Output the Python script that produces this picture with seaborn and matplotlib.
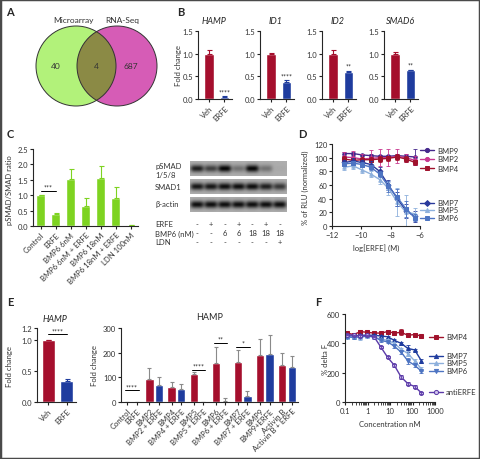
"""
Multi-panel figure: ERFE effects on BMP signalling (A-F)
"""
import numpy as np
import pandas as pd
import matplotlib
matplotlib.use("Agg")
import matplotlib.pyplot as plt
import seaborn as sns
from matplotlib.patches import Circle, Rectangle
from matplotlib.lines import Line2D

# ---------------- data ----------------
venn_sets = ["Microarray", "RNA-Seq"]
venn_counts = [40, 4, 687]

b_genes = ["HAMP", "ID1", "ID2", "SMAD6"]
b_groups = ["Veh", "ERFE"]
b_means = [[1.0, 0.05], [1.0, 0.38], [1.0, 0.60], [1.0, 0.63]]
b_errs = [[0.09, 0.01], [0.01, 0.03], [0.09, 0.02], [0.04, 0.02]]
b_stars = ["****", "****", "**", "**"]

c_labels = ["Control", "ERFE", "BMP6 6nM", "BMP6 6nM + ERFE",
            "BMP6 18nM", "BMP6 18nM + ERFE", "LDN 100nM"]
c_ratio = [1.0, 0.38, 1.52, 0.65, 1.56, 0.90, 0.02]
c_err = [0.0, 0.05, 0.32, 0.27, 0.38, 0.36, 0.01]

blot_rows = ["pSMAD\n1/5/8", "SMAD1", "β-actin"]
blot_psmad = [0.85, 0.65, 1.0, 0.35, 1.0, 0.35, 0.03]
blot_smad1 = [0.90, 0.90, 0.95, 0.95, 0.95, 0.85, 0.70]
blot_actin = [0.95, 0.95, 0.95, 0.95, 0.95, 0.95, 0.95]
blot_erfe = ["-", "+", "-", "+", "-", "+", "-"]
blot_bmp6 = ["-", "-", "6", "6", "18", "18", "18"]
blot_ldn = ["-", "-", "-", "-", "-", "-", "+"]

d_logconc = [-11.15, -10.55, -9.95, -9.35, -8.75, -8.15, -7.55, -6.95, -6.35]
d_bmp9 = [106, 106, 104, 103, 102, 102, 103, 102, 101]
d_bmp9_err = [3, 3, 2, 2, 2, 2, 2, 3, 12]
d_bmp2 = [101, 100, 98, 99, 100, 100, 102, 100, 96]
d_bmp2_err = [8, 10, 8, 12, 12, 12, 10, 6, 6]
d_bmp4 = [98, 96, 97, 97, 98, 99, 101, 98, 93]
d_bmp4_err = [4, 4, 4, 4, 4, 4, 4, 4, 4]
d_bmp7 = [93, 95, 93, 90, 80, 60, 40, 22, 14]
d_bmp7_err = [4, 4, 4, 5, 6, 8, 10, 10, 8]
d_bmp5 = [86, 88, 82, 76, 68, 55, 35, 20, 18]
d_bmp5_err = [4, 5, 4, 4, 6, 10, 20, 25, 8]
d_bmp6 = [91, 92, 90, 86, 76, 58, 42, 25, 12]
d_bmp6_err = [3, 3, 3, 4, 5, 8, 12, 12, 5]

e_groups = ["Veh", "ERFE"]
e_fold = [1.0, 0.34]
e_fold_err = [0.005, 0.04]

e2_labels = ["Control", "ERFE", "BMP2", "BMP2 + ERFE", "BMP4", "BMP4 + ERFE",
             "BMP5", "BMP5 + ERFE", "BMP6", "BMP6 + ERFE", "BMP7", "BMP7 + ERFE",
             "BMP9", "BMP9+ERFE", "Activin B", "Activin B + ERFE"]
e2_ligand = ["Control", "BMP2", "BMP4", "BMP5", "BMP6", "BMP7", "BMP9", "Activin B"]
e2_fold = [0, 0, 95, 70, 60, 53, 113, 1, 160, 5, 163, 25, 190, 195, 148, 143]
e2_err = [0, 0, 42, 30, 20, 18, 10, 1, 65, 10, 48, 18, 65, 75, 50, 45]

f_conc = [0.122, 0.244, 0.488, 0.977, 1.95, 3.9, 7.8, 15.6, 31.25, 62.5, 125, 250]
f_bmp4 = [470, 460, 480, 475, 470, 470, 480, 470, 475, 455, 460, 450]
f_bmp4_err = [8, 5, 8, 8, 5, 5, 8, 8, 20, 8, 5, 5]
f_bmp7 = [450, 450, 455, 455, 455, 450, 445, 420, 400, 365, 355, 280]
f_bmp7_err = [10, 8, 8, 8, 8, 8, 8, 8, 10, 25, 8, 15]
f_bmp5 = [440, 445, 440, 450, 440, 430, 420, 400, 360, 330, 280, 225]
f_bmp5_err = [10, 8, 15, 8, 8, 8, 8, 10, 10, 15, 10, 15]
f_bmp6 = [445, 440, 445, 450, 445, 420, 410, 380, 340, 280, 250, 210]
f_bmp6_err = [8, 8, 8, 8, 8, 8, 8, 10, 10, 20, 10, 10]
f_anti = [460, 455, 450, 455, 445, 375, 305, 250, 170, 125, 105, 62]
f_anti_err = [5, 5, 5, 5, 5, 5, 8, 8, 15, 8, 10, 5]

RED = "#a50f2d"
BLUE = "#1f3c9e"
GREEN = "#7ed321"

# ---------------- style ----------------
sns.set_style("ticks")
plt.rcParams["font.family"] = ["Lato", "DejaVu Sans"]
plt.rcParams["font.size"] = 5.5
plt.rcParams["axes.linewidth"] = 0.8
plt.rcParams["xtick.major.size"] = 2
plt.rcParams["ytick.major.size"] = 2
plt.rcParams["xtick.major.width"] = 0.8
plt.rcParams["ytick.major.width"] = 0.8
plt.rcParams["xtick.major.pad"] = 1.5
plt.rcParams["ytick.major.pad"] = 1.5
plt.rcParams["xtick.labelsize"] = 5.5
plt.rcParams["ytick.labelsize"] = 5.5

W, H = 480, 460
fig = plt.figure(figsize=(W / 100, H / 100), dpi=100)


def box(x0, y0, x1, y1):
    return fig.add_axes([x0 / W, 1 - y1 / H, (x1 - x0) / W, (y1 - y0) / H])


def ftxt(x, y, s, **kw):
    kw.setdefault("ha", "center")
    kw.setdefault("va", "center")
    fig.text(x / W, 1 - y / H, s, **kw)


def clean(ax):
    sns.despine(ax=ax)
    ax.tick_params(colors="#222222", labelcolor="#333333")


def bars(ax, labels, vals, errs, colors, width):
    df = pd.DataFrame({"lab": labels, "val": vals})
    sns.barplot(data=df, x="lab", y="val", hue="lab", palette=colors,
                width=width, errorbar=None, legend=False, ax=ax, saturation=1)
    xs = [p.get_x() + p.get_width() / 2 for p in ax.patches]
    for x, v, e, c in zip(xs, vals, errs, colors):
        ax.errorbar([x], [v], yerr=[[0], [e]], fmt="none", ecolor=c,
                    elinewidth=0.8, capsize=1.8, capthick=0.8)
    ax.set_xlabel("")
    ax.set_ylabel("")
    return xs


def rot_labels(ax, xs, labels):
    ax.set_xticks(xs)
    ax.set_xticklabels(labels, rotation=45, ha="right", rotation_mode="anchor")


def legend_entry(x, y, color, marker, label, mfc=None):
    fig.add_artist(Line2D([(x - 7) / W, x / W, (x + 7) / W], [1 - y / H] * 3,
                          color=color, lw=1, marker=marker, markersize=3,
                          markevery=[1], markerfacecolor=mfc or color,
                          markeredgecolor=color, markeredgewidth=0.7))
    ftxt(x + 10, y, label, ha="left", fontsize=5.5, color="#333333")


# ---------------- A: venn ----------------
axA = box(0, 0, 180, 130)
axA.set_xlim(0, 180)
axA.set_ylim(130, 0)
axA.axis("off")
left = Circle((76, 67), 40, fc="#b2f27a", ec="none")
right = Circle((117, 67), 40, fc="#d65cb6", ec="none")
axA.add_patch(left)
axA.add_patch(right)
mid = Circle((117, 67), 40, fc="#8b8a45", ec="none")
axA.add_patch(mid)
mid.set_clip_path(left)
axA.add_patch(Circle((76, 67), 40, fill=False, ec="#333333", lw=0.7))
axA.add_patch(Circle((117, 67), 40, fill=False, ec="#333333", lw=0.7))
axA.text(73, 20, venn_sets[0], ha="center", va="center", fontsize=6, color="#333333")
axA.text(122, 20, venn_sets[1], ha="center", va="center", fontsize=6, color="#333333")
for x, n in zip([56, 96, 131], venn_counts):
    axA.text(x, 67, str(n), ha="center", va="center", fontsize=6, color="#333333")

# ---------------- B: qPCR bars ----------------
for i, (g, m, e, s) in enumerate(zip(b_genes, b_means, b_errs, b_stars)):
    x0 = 198 + i * 62
    ax = box(x0, 32, x0 + 34, 100)
    xs = bars(ax, b_groups, m, e, [RED, BLUE], 0.65)
    ax.set_xlim(-0.75, 1.5)
    ax.set_ylim(0, 1.5)
    ax.set_yticks([0, 0.5, 1.0, 1.5])
    ax.set_yticklabels(["0.0", "0.5", "1.0", "1.5"])
    rot_labels(ax, xs, b_groups)
    ax.text(xs[1], m[1] + e[1] + 0.02, s, ha="center", va="bottom", fontsize=5)
    clean(ax)
    ftxt(x0 + 16, 21, g, fontsize=6.5, style="italic")
ftxt(178, 66, "Fold change", rotation=90, fontsize=5.5, color="#333333")

# ---------------- C: pSMAD/SMAD ----------------
axC = box(33, 150, 138, 227)
xs = bars(axC, c_labels, c_ratio, c_err, [GREEN] * 7, 0.6)
axC.set_xlim(-0.5, 6.5)
axC.set_ylim(0, 2.5)
axC.set_yticks([0, 0.5, 1.0, 1.5, 2.0, 2.5])
axC.set_yticklabels(["0.0", "0.5", "1.0", "1.5", "2.0", "2.5"])
rot_labels(axC, xs, c_labels)
axC.plot([xs[0], xs[1]], [1.15, 1.15], color="black", lw=0.7)
axC.text((xs[0] + xs[1]) / 2, 1.15, "***", ha="center", va="bottom", fontsize=5)
clean(axC)
ftxt(10, 190, "pSMAD/SMAD ratio", rotation=90, fontsize=5.5, color="#333333")

# western blot
axW = box(190, 160, 287, 247)
axW.set_xlim(-0.5, 6.5)
axW.set_ylim(247, 160)
axW.axis("off")
lane_x = np.linspace(-0.5, 6.5, 141)
row_y = np.linspace(-1, 1, 21)
for (top, bot), inten in zip([(162, 177), (180, 195), (198, 213)],
                             [blot_psmad, blot_smad1, blot_actin]):
    prof = np.zeros_like(lane_x)
    for k, v in enumerate(inten):
        prof += v * np.exp(-((lane_x - k) / 0.48) ** 4)
    img = 0.68 - 0.66 * np.outer(np.exp(-(row_y / 0.5) ** 2), np.clip(prof, 0, 1))
    axW.imshow(img, cmap="gray", vmin=0, vmax=1, aspect="auto",
               extent=(-0.5, 6.5, bot, top), interpolation="bilinear")
for k in range(7):
    axW.text(k, 225, blot_erfe[k], ha="center", va="center", fontsize=5.5, color="#333333")
    axW.text(k, 234, blot_bmp6[k], ha="center", va="center", fontsize=5.5, color="#333333")
    axW.text(k, 243, blot_ldn[k], ha="center", va="center", fontsize=5.5, color="#333333")
ftxt(155, 171, blot_rows[0], ha="left", fontsize=5.5, color="#333333", linespacing=1.4)
ftxt(155, 188, blot_rows[1], ha="left", fontsize=5.5, color="#333333")
ftxt(155, 205, blot_rows[2], ha="left", fontsize=5.5, color="#333333")
ftxt(155, 225, "ERFE", ha="left", fontsize=5.5, color="#333333")
ftxt(155, 234, "BMP6 (nM)", ha="left", fontsize=5.5, color="#333333")
ftxt(155, 243, "LDN", ha="left", fontsize=5.5, color="#333333")

# ---------------- D: luciferase ----------------
axD = box(332, 145, 420, 227)
d_sets = [(d_bmp9, d_bmp9_err, "#45288c", "o", "BMP9"),
          (d_bmp2, d_bmp2_err, "#c8378f", "o", "BMP2"),
          (d_bmp4, d_bmp4_err, "#a0122c", "s", "BMP4"),
          (d_bmp7, d_bmp7_err, "#2a3a9c", "D", "BMP7"),
          (d_bmp5, d_bmp5_err, "#8db0dc", "^", "BMP5"),
          (d_bmp6, d_bmp6_err, "#4d74c2", "s", "BMP6")]
for vals, errs, col, mk, name in d_sets:
    sns.lineplot(x=d_logconc, y=vals, color=col, lw=1, marker=mk, markersize=2.5,
                 markeredgecolor=col, ax=axD)
    axD.errorbar(d_logconc, vals, yerr=errs, fmt="none", ecolor=col,
                 elinewidth=0.6, capsize=1.5, capthick=0.6)
axD.set_xlim(-12, -6)
axD.set_ylim(0, 120)
axD.set_xticks([-12, -10, -8, -6])
axD.set_yticks(range(0, 121, 20))
clean(axD)
ftxt(376, 248, "log[ERFE] (M)", fontsize=5.5, color="#333333")
ftxt(305, 188, "% of RLU (normalized)", rotation=90, fontsize=5.5, color="#333333")
for (vals, errs, col, mk, name), y in zip(d_sets, [151, 160, 169, 204, 211, 219]):
    legend_entry(427, y, col, mk, name)

# ---------------- E: HAMP in vivo ----------------
axE = box(37, 329, 76, 403)
xs = bars(axE, e_groups, e_fold, e_fold_err, [RED, BLUE], 0.7)
axE.set_xlim(-0.6, 1.5)
axE.set_ylim(0, 1.2)
axE.set_yticks([0, 0.5, 1.0, 1.2])
axE.set_yticklabels(["0.0", "0.5", "1.0", "1.2"])
rot_labels(axE, xs, e_groups)
axE.plot([xs[0], xs[1]], [1.1, 1.1], color="black", lw=0.7)
axE.text((xs[0] + xs[1]) / 2, 1.1, "****", ha="center", va="bottom", fontsize=5)
clean(axE)
ftxt(55, 320, "HAMP", fontsize=6.5, style="italic")
ftxt(10, 367, "Fold change", rotation=90, fontsize=5.5, color="#333333")

# E right: HAMP with ligands
axE2 = box(121, 329, 298, 403)
df = pd.DataFrame({"ligand": np.repeat(e2_ligand, 2),
                   "treat": ["-", "+"] * len(e2_ligand),
                   "fold": e2_fold})
sns.barplot(data=df, x="ligand", y="fold", hue="treat", palette=[RED, BLUE],
            width=0.85, gap=0.12, errorbar=None, legend=False, ax=axE2, saturation=1)
pts = sorted(axE2.patches, key=lambda p: p.get_x())
xs2 = [p.get_x() + p.get_width() / 2 for p in pts]
axE2.errorbar(xs2, e2_fold, yerr=[np.zeros(len(e2_err)), e2_err], fmt="none",
              ecolor="#8a8a8a", elinewidth=0.8, capsize=1.5, capthick=0.8)
axE2.set_xlim(-0.5, 7.5)
axE2.set_ylim(0, 300)
axE2.set_yticks([0, 100, 200, 300])
axE2.set_xlabel("")
axE2.set_ylabel("")
rot_labels(axE2, xs2, e2_labels)
for i, y, s in [(0, 47, "****"), (3, 130, "****"), (4, 240, "**"), (5, 225, "*")]:
    axE2.plot([xs2[2 * i] - 0.1, xs2[2 * i + 1] + 0.1], [y, y], color="black", lw=0.7)
    axE2.text((xs2[2 * i] + xs2[2 * i + 1]) / 2, y, s, ha="center", va="bottom", fontsize=5)
clean(axE2)
ftxt(210, 318, "HAMP", fontsize=6.5)
ftxt(95, 366, "Fold change", rotation=90, fontsize=5.5, color="#333333")

# ---------------- F: binding ----------------
axF = box(345, 315, 435, 403)
f_sets = [(f_bmp4, f_bmp4_err, "#a0122c", "s", "BMP4", None),
          (f_bmp7, f_bmp7_err, "#1f3c9e", "^", "BMP7", None),
          (f_bmp5, f_bmp5_err, "#8db0dc", "^", "BMP5", None),
          (f_bmp6, f_bmp6_err, "#4d74c2", "v", "BMP6", None),
          (f_anti, f_anti_err, "#5b3aa8", "o", "antiERFE", "#cfc2ec")]
for vals, errs, col, mk, name, mfc in f_sets:
    sns.lineplot(x=f_conc, y=vals, color=col, lw=1, marker=mk, markersize=2.8,
                 markeredgecolor=col, markerfacecolor=mfc or col, ax=axF)
    axF.errorbar(f_conc, vals, yerr=errs, fmt="none", ecolor=col,
                 elinewidth=0.6, capsize=1.5, capthick=0.6)
axF.set_xscale("log")
axF.set_xlim(0.1, 1000)
axF.set_ylim(0, 600)
axF.set_xticks([0.1, 1, 10, 100, 1000])
axF.set_xticklabels(["0.1", "1", "10", "100", "1000"])
axF.set_yticks([0, 200, 400, 600])
clean(axF)
ftxt(390, 425, "Concentration nM", fontsize=5.5, color="#333333")
ftxt(325, 359, "% delta F", rotation=90, fontsize=5.5, color="#333333")
for (vals, errs, col, mk, name, mfc), y in zip(f_sets, [338, 357, 364, 372, 393]):
    legend_entry(436, y, col, mk, name, mfc)

# ---------------- panel letters + frame ----------------
for s, x, y in [("A", 10, 12), ("B", 181, 12), ("C", 10, 135), ("D", 302, 135),
                ("E", 10, 303), ("F", 318, 303)]:
    ftxt(x, y, s, fontsize=8, fontweight="bold")
fig.add_artist(Rectangle((0, 0), 1, 1, transform=fig.transFigure, fill=False,
                         ec="#4a4a4a", lw=2.5))

fig.savefig("out.png", dpi=100)
